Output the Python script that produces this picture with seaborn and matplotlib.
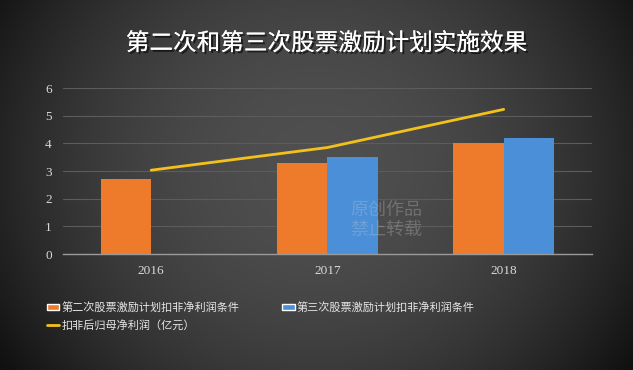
import numpy as np
import pandas as pd
import seaborn as sns
import matplotlib.pyplot as plt
import matplotlib.patheffects as pe
from matplotlib.patches import Patch
from matplotlib.lines import Line2D

# 数据
years = ["2016", "2017", "2018"]
second_plan = [2.7, 3.3, 4.0]          # 第二次股票激励计划扣非净利润条件
third_plan = [np.nan, 3.5, 4.2]        # 第三次股票激励计划扣非净利润条件
net_profit = [3.03, 3.85, 5.23]        # 扣非后归母净利润（亿元）

lbl_second = "第二次股票激励计划扣非净利润条件"
lbl_third = "第三次股票激励计划扣非净利润条件"
lbl_profit = "扣非后归母净利润（亿元）"
title = "第二次和第三次股票激励计划实施效果"

ORANGE = "#EE7B2C"
BLUE = "#4A8FD8"
YELLOW = "#F2C21B"

sns.set_theme(style="white")
plt.rcParams['font.family'] = ['Noto Sans CJK SC', 'DejaVu Sans']

df = pd.DataFrame({
    "year": years * 2,
    "value": second_plan + third_plan,
    "plan": [lbl_second] * 3 + [lbl_third] * 3,
})

fig = plt.figure(figsize=(6.33, 3.70), dpi=100)

# 背景渐变
bg = fig.add_axes([0, 0, 1, 1], zorder=-10)
xx, yy = np.meshgrid(np.linspace(-1, 1, 400), np.linspace(-1, 1, 240))
r = np.sqrt((xx / 1.0) ** 2 + ((yy + 0.1) / 1.6) ** 2)
shade = 0.31 - 0.17 * np.clip(r, 0, 1.2) ** 2
bg.imshow(np.dstack([shade] * 3), aspect="auto", extent=[0, 1, 0, 1])
bg.set_axis_off()

ax = fig.add_axes([0.0995, 0.3135, 0.8355, 0.4485])
ax.set_facecolor("none")

sns.barplot(data=df, x="year", y="value", hue="plan", ax=ax,
            palette=[ORANGE, BLUE], width=0.57, gap=0, legend=False,
            saturation=1, edgecolor="none", linewidth=0)
sns.lineplot(x=np.arange(len(years)), y=net_profit, ax=ax, color=YELLOW,
             linewidth=2.0, legend=False, sort=False)

ax.set_xlim(-0.5, len(years) - 0.5)
ax.set_xticks(range(len(years)))
ax.set_xticklabels(years)
ax.set_ylim(0, 6)
ax.set_yticks(range(0, 7))
ax.set_xlabel("")
ax.set_ylabel("")
ax.grid(axis="y", color="#5c5c5c", linewidth=0.8)
ax.set_axisbelow(True)
for s in ["top", "right", "left"]:
    ax.spines[s].set_visible(False)
ax.spines["bottom"].set_color("#9a9a9a")
ax.spines["bottom"].set_linewidth(1.0)
ax.tick_params(axis="both", length=0, colors="#d9d9d9", labelsize=9.5, pad=8)
for t in ax.get_xticklabels() + ax.get_yticklabels():
    t.set_family(["Liberation Serif", "DejaVu Serif"])

# 水印
fig.text(0.61, 0.405, "原创作品\n禁止转载", fontsize=13, color="#c8c8c8", alpha=0.3,
         ha="center", va="center", linespacing=1.1, zorder=5)

fig.text(0.516, 0.882, title, fontsize=17, color="white", ha="center", va="center",
         path_effects=[pe.withSimplePatchShadow(offset=(1.5, -1.5), shadow_rgbFace="black", alpha=0.6),
                       pe.Normal()])

handles = [Patch(facecolor=ORANGE), Line2D([0], [0], color=YELLOW, lw=2), Patch(facecolor=BLUE)]
labels = [lbl_second, lbl_profit, lbl_third]
leg = fig.legend(handles, labels, loc="upper left", bbox_to_anchor=(0.058, 0.21), ncol=2,
                 frameon=False, fontsize=8, handlelength=1.15, handleheight=0.5,
                 handletextpad=0.15, columnspacing=3.9, labelspacing=0.6)
for t in leg.get_texts():
    t.set_color("#e6e6e6")

fig.savefig("out.png", dpi=100)
